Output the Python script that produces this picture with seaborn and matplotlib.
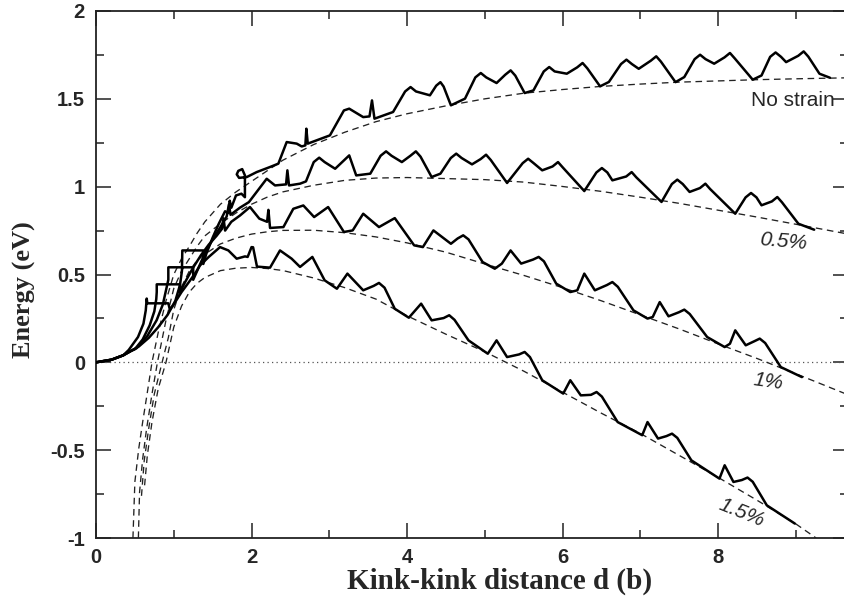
import matplotlib
matplotlib.use("Agg")
import matplotlib.pyplot as plt
from matplotlib.ticker import MultipleLocator, FixedLocator
import seaborn as sns

# ---------------- data ----------------
# solid curves: computed energy vs kink-kink distance
ns_x = [0, 0.2, 0.35, 0.45, 0.55, 0.68, 0.80, 0.92, 1.02, 1.08, 1.105, 1.11, 1.38, 1.38,
        1.42, 1.50, 1.58, 1.66, 1.70, 1.72, 1.74, 1.80, 1.87, 1.915, 1.915, 1.88, 1.83,
        1.81, 1.84, 1.94, 2.066, 2.238, 2.345, 2.452, 2.581, 2.645, 2.692, 2.705, 2.723,
        3.008, 3.188, 3.256, 3.436, 3.517, 3.549, 3.581, 3.820, 3.975, 4.045, 4.115,
        4.294, 4.375, 4.429, 4.47, 4.497, 4.564, 4.745, 4.878, 4.948, 5.018, 5.151,
        5.262, 5.332, 5.392, 5.512, 5.625, 5.758, 5.828, 5.898, 6.054, 6.187, 6.257,
        6.317, 6.482, 6.595, 6.751, 6.821, 6.891, 6.979, 7.134, 7.204, 7.264, 7.452,
        7.565, 7.698, 7.768, 7.838, 7.949, 8.082, 8.152, 8.212, 8.445, 8.558, 8.669,
        8.739, 8.809, 8.874, 9.03, 9.100, 9.16, 9.303, 9.438]
ns_y = [0, 0.015, 0.04, 0.065, 0.09, 0.14, 0.20, 0.27, 0.35, 0.44, 0.52, 0.637, 0.637, 0.56,
        0.62, 0.71, 0.79, 0.86, 0.85, 0.92, 0.88, 0.95, 0.96, 0.94, 1.064, 1.10, 1.09,
        1.07, 1.05, 1.055, 1.083, 1.112, 1.131, 1.254, 1.245, 1.229, 1.235, 1.330, 1.245,
        1.292, 1.434, 1.444, 1.396, 1.400, 1.491, 1.387, 1.425, 1.542, 1.567, 1.542,
        1.520, 1.575, 1.595, 1.570, 1.539, 1.463, 1.501, 1.622, 1.647, 1.622, 1.590,
        1.637, 1.662, 1.632, 1.533, 1.548, 1.656, 1.681, 1.656, 1.643, 1.679, 1.704,
        1.674, 1.571, 1.596, 1.698, 1.723, 1.698, 1.671, 1.717, 1.742, 1.712, 1.595,
        1.624, 1.726, 1.751, 1.726, 1.700, 1.736, 1.761, 1.731, 1.609, 1.633, 1.739,
        1.764, 1.739, 1.709, 1.745, 1.770, 1.740, 1.643, 1.620]

s05_x = [0, 0.2, 0.35, 0.45, 0.52, 0.66, 0.78, 0.86, 0.91, 0.93, 0.93, 1.25, 1.25, 1.30,
         1.40, 1.50, 1.60, 1.68, 1.71, 1.73, 1.85, 1.966, 2.195, 2.302, 2.444, 2.461,
         2.482, 2.624, 2.70, 2.80, 2.87, 2.94, 3.075, 3.256, 3.346, 3.527, 3.66, 3.73,
         3.80, 3.933, 4.043, 4.113, 4.173, 4.316, 4.429, 4.562, 4.632, 4.702, 4.835,
         4.946, 5.016, 5.076, 5.286, 5.487, 5.557, 5.627, 5.738, 5.871, 5.941, 6.001,
         6.279, 6.435, 6.505, 6.575, 6.640, 6.818, 6.888, 6.948, 7.272, 7.405, 7.475,
         7.545, 7.633, 7.766, 7.836, 7.896, 8.220, 8.353, 8.423, 8.493, 8.558, 8.691,
         8.761, 8.821, 9.032, 9.235]
s05_y = [0, 0.015, 0.04, 0.065, 0.08, 0.15, 0.24, 0.33, 0.43, 0.47, 0.541, 0.541, 0.47, 0.52,
         0.62, 0.70, 0.77, 0.83, 0.90, 0.84, 0.88, 0.912, 1.045, 1.007, 1.013, 1.093,
         1.007, 1.017, 1.03, 1.14, 1.165, 1.14, 1.102, 1.178, 1.064, 1.074, 1.176, 1.201,
         1.176, 1.140, 1.176, 1.201, 1.171, 1.055, 1.074, 1.163, 1.188, 1.163, 1.127,
         1.157, 1.182, 1.152, 1.021, 1.134, 1.159, 1.134, 1.093, 1.115, 1.140, 1.110,
         0.975, 1.081, 1.106, 1.081, 1.036, 1.058, 1.083, 1.053, 0.913, 1.015, 1.040,
         1.015, 0.970, 0.992, 1.017, 0.987, 0.846, 0.939, 0.964, 0.939, 0.894, 0.916,
         0.941, 0.911, 0.789, 0.755]

s10_x = [0, 0.2, 0.35, 0.45, 0.50, 0.60, 0.69, 0.75, 0.775, 0.781, 0.781, 1.08, 1.08, 1.15,
         1.25, 1.35, 1.45, 1.55, 1.62, 1.64, 1.66, 1.74, 1.852, 1.98, 2.10, 2.20, 2.217,
         2.238, 2.41, 2.537, 2.666, 2.805, 2.985, 3.188, 3.301, 3.436, 3.639, 3.842, 4.091,
         4.203, 4.339, 4.564, 4.65, 4.722, 4.79, 4.971, 5.128, 5.219, 5.331, 5.467, 5.62,
         5.692, 5.76, 5.918, 6.099, 6.189, 6.279, 6.415, 6.57, 6.640, 6.71, 6.911, 7.092,
         7.159, 7.249, 7.362, 7.495, 7.565, 7.635, 7.859, 8.084, 8.152, 8.220, 8.355,
         8.465, 8.535, 8.605, 8.806, 9.077]
s10_y = [0, 0.015, 0.04, 0.065, 0.075, 0.13, 0.21, 0.29, 0.36, 0.40, 0.444, 0.444, 0.40, 0.46,
         0.54, 0.61, 0.67, 0.72, 0.76, 0.82, 0.75, 0.80, 0.836, 0.884, 0.818, 0.80, 0.868,
         0.765, 0.770, 0.874, 0.893, 0.827, 0.884, 0.742, 0.751, 0.846, 0.770, 0.821, 0.666,
         0.656, 0.751, 0.675, 0.705, 0.723, 0.70, 0.571, 0.533, 0.562, 0.637, 0.562, 0.585,
         0.600, 0.575, 0.448, 0.400, 0.410, 0.505, 0.410, 0.44, 0.457, 0.43, 0.296, 0.249,
         0.258, 0.343, 0.262, 0.285, 0.300, 0.275, 0.144, 0.087, 0.106, 0.182, 0.097,
         0.12, 0.135, 0.11, -0.027, -0.084]

s15_x = [0, 0.2, 0.35, 0.42, 0.54, 0.61, 0.64, 0.652, 0.66, 0.93, 0.95, 1.0, 1.1, 1.2, 1.28,
         1.338, 1.45, 1.595, 1.702, 1.809, 1.916, 1.95, 2.0, 2.02, 2.07, 2.238, 2.366,
         2.516, 2.624, 2.782, 2.940, 3.098, 3.233, 3.436, 3.57, 3.639, 3.71, 3.842, 4.023,
         4.181, 4.316, 4.47, 4.542, 4.61, 4.790, 5.038, 5.151, 5.286, 5.44, 5.512, 5.58,
         5.738, 6.008, 6.099, 6.234, 6.365, 6.437, 6.505, 6.708, 7.024, 7.092, 7.227,
         7.335, 7.407, 7.475, 7.656, 8.017, 8.084, 8.197, 8.305, 8.378, 8.445, 8.626,
         8.987]
s15_y = [0, 0.015, 0.04, 0.07, 0.144, 0.22, 0.296, 0.363, 0.336, 0.336, 0.30, 0.33, 0.40,
         0.46, 0.51, 0.552, 0.60, 0.656, 0.637, 0.590, 0.603, 0.60, 0.656, 0.655, 0.545,
         0.539, 0.637, 0.590, 0.543, 0.600, 0.467, 0.419, 0.505, 0.410, 0.435, 0.452,
         0.425, 0.305, 0.254, 0.334, 0.239, 0.252, 0.268, 0.242, 0.125, 0.049, 0.125,
         0.030, 0.045, 0.059, 0.03, -0.102, -0.178, -0.102, -0.188, -0.185, -0.169,
         -0.195, -0.340, -0.415, -0.340, -0.434, -0.42, -0.406, -0.43, -0.558, -0.662,
         -0.586, -0.681, -0.67, -0.656, -0.68, -0.814, -0.918]

# dashed curves: continuum model
dns_x = [0.475, 0.50, 0.55, 0.60, 0.65, 0.72, 0.80, 0.90, 1.0, 1.1, 1.2, 1.3, 1.4, 1.6, 1.8,
         2.0, 2.2, 2.4, 2.8, 3.2, 3.6, 4.0, 4.5, 5.0, 5.5, 6.0, 6.5, 7.0, 7.5, 8.0, 8.5,
         9.0, 9.7]
dns_y = [-1.0, -0.68, -0.49, -0.34, -0.20, 0.0, 0.17, 0.35, 0.50, 0.59, 0.66, 0.735, 0.80,
         0.90, 0.97, 1.03, 1.09, 1.15, 1.24, 1.31, 1.37, 1.415, 1.46, 1.50, 1.532, 1.553,
         1.571, 1.584, 1.595, 1.602, 1.609, 1.614, 1.62]

d05_x = [0.545, 0.56, 0.60, 0.65, 0.72, 0.79, 0.90, 1.0, 1.1, 1.2, 1.3, 1.4, 1.6, 1.8, 2.0,
         2.2, 2.4, 2.8, 3.2, 3.6, 4.0, 4.5, 5.0, 5.5, 6.0, 6.5, 7.0, 7.5, 8.0, 8.5, 9.0,
         9.7]
d05_y = [-1.0, -0.74, -0.55, -0.38, -0.18, 0.0, 0.24, 0.42, 0.52, 0.59, 0.66, 0.72, 0.79,
         0.85, 0.90, 0.94, 0.97, 1.008, 1.036, 1.049, 1.052, 1.046, 1.040, 1.026, 1.001,
         0.973, 0.940, 0.905, 0.866, 0.827, 0.786, 0.728]

d10_x = [0.585, 0.62, 0.68, 0.75, 0.85, 0.93, 1.0, 1.1, 1.2, 1.3, 1.4, 1.6, 1.8, 2.0, 2.2,
         2.4, 2.8, 3.2, 3.6, 4.0, 4.5, 5.0, 5.5, 6.0, 6.5, 7.0, 7.5, 8.0, 8.5, 9.0, 9.7]
d10_y = [-0.76, -0.56, -0.37, -0.18, 0.0, 0.14, 0.30, 0.43, 0.52, 0.58, 0.616, 0.674, 0.707,
         0.73, 0.743, 0.751, 0.752, 0.738, 0.714, 0.68, 0.627, 0.56, 0.495, 0.425, 0.35,
         0.27, 0.19, 0.105, 0.022, -0.065, -0.19]

d15_x = [0.625, 0.66, 0.72, 0.80, 0.90, 1.0, 1.1, 1.2, 1.3, 1.4, 1.6, 1.8, 2.0, 2.2, 2.4,
         2.8, 3.2, 3.6, 4.0, 4.5, 5.0, 5.5, 6.0, 6.5, 7.0, 7.5, 8.0, 8.5, 9.0, 9.26]
d15_y = [-0.70, -0.53, -0.34, -0.15, 0.0, 0.20, 0.32, 0.40, 0.45, 0.483, 0.522, 0.536, 0.54,
         0.534, 0.523, 0.48, 0.425, 0.36, 0.265, 0.16, 0.06, -0.05, -0.17, -0.29, -0.405,
         -0.53, -0.655, -0.785, -0.92, -1.0]

solid_series = [(ns_x, ns_y), (s05_x, s05_y), (s10_x, s10_y), (s15_x, s15_y)]
dashed_series = [(dns_x, dns_y), (d05_x, d05_y), (d10_x, d10_y), (d15_x, d15_y)]

x_ticks = [0, 2, 4, 6, 8]
y_ticks = [-1, -0.5, 0, 0.5, 1, 1.5, 2]
y_tick_labels = ["-1", "-0.5", "0", "0.5", "1", "1.5", "2"]

labels = ["No strain", "0.5%", "1%", "1.5%"]

# ---------------- figure ----------------
sns.set_style("ticks")
plt.rcParams['font.family'] = ['Liberation Sans', 'DejaVu Sans']

W, H = 845, 599
fig = plt.figure(figsize=(W / 100, H / 100), dpi=100)
ax = fig.add_axes([96 / W, 1 - 538 / H, (848 - 96) / W, (538 - 11) / H])

ax.axhline(0, color="#555555", lw=0.9, ls=(0, (1, 2.6)), zorder=1)

for xs, ys in dashed_series:
    sns.lineplot(x=xs, y=ys, ax=ax, sort=False, estimator=None, color="#222222",
                 lw=0.95, linestyle=(0, (5, 3.5)), zorder=2)

for xs, ys in solid_series:
    sns.lineplot(x=xs, y=ys, ax=ax, sort=False, estimator=None, color="black",
                 lw=1.8, zorder=3, solid_joinstyle="round", solid_capstyle="round")

ax.set_xlim(0, 9.67)
ax.set_ylim(-1, 2)
ax.xaxis.set_major_locator(FixedLocator(x_ticks))
ax.xaxis.set_minor_locator(MultipleLocator(1))
ax.set_yticks(y_ticks)
ax.set_yticklabels(y_tick_labels)
ax.yaxis.set_minor_locator(MultipleLocator(0.25))
ax.tick_params(which="both", direction="in", top=True, right=True, width=1.1,
               color="#222222")
ax.tick_params(which="major", length=10.5)
ax.tick_params(which="minor", length=5.5)
ax.tick_params(axis="x", pad=7)
ax.tick_params(axis="y", pad=8)
for lab in ax.get_xticklabels() + ax.get_yticklabels():
    lab.set_fontweight("bold")
    lab.set_fontsize(14.5)
for sp in ax.spines.values():
    sp.set_linewidth(1.3)
    sp.set_color("#222222")
ax.set_xlabel("")
ax.set_ylabel("")

fig.text(500 / W, 1 - 581 / H, "Kink-kink distance d (b)", ha="center", va="center",
         fontsize=21, fontweight="bold", family=["Liberation Serif", "DejaVu Serif"])
fig.text(24 / W, 1 - 290 / H, "Energy (eV)", ha="center", va="center", rotation=90,
         fontsize=19, fontweight="bold", family=["Liberation Serif", "DejaVu Serif"])

ax.text(9.505, 1.457, labels[0], ha="right", va="baseline", fontsize=15, zorder=4)
ax.text(8.84, 0.689, labels[1], ha="center", va="center", fontsize=15, style="italic",
        rotation=-5, zorder=4)
ax.text(8.64, -0.108, labels[2], ha="center", va="center", fontsize=15, style="italic",
        rotation=-8, zorder=4)
ax.text(8.30, -0.854, labels[3], ha="center", va="center", fontsize=15, style="italic",
        rotation=-22, zorder=4)

fig.savefig("out.png", dpi=100)
